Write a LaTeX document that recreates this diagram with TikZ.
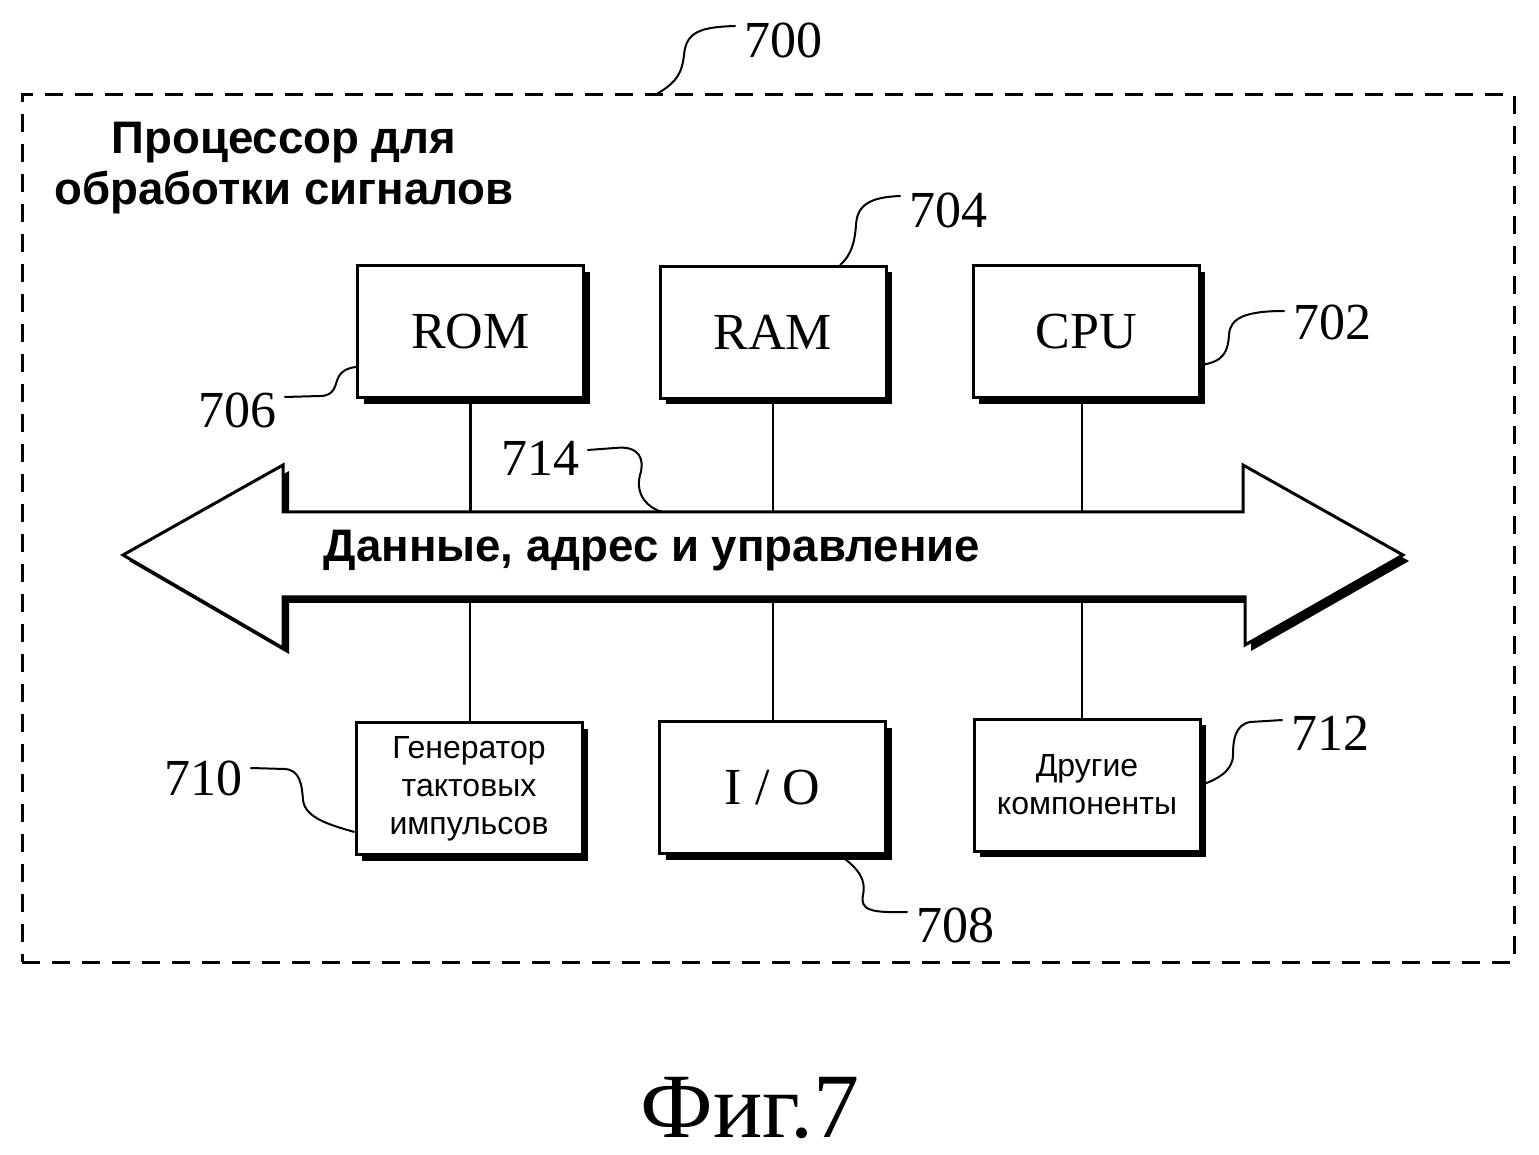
\documentclass[tikz,border=0pt]{standalone}
\usepackage{fontspec}
\setmainfont{Liberation Serif}
\setsansfont{Liberation Sans}
\usetikzlibrary{shadows}
\begin{document}
\begin{tikzpicture}[x=0.5pt,y=-0.5pt,
  box/.style={draw,line width=1.5pt,fill=white,minimum width=113pt,minimum height=66pt,inner sep=0pt,
    drop shadow={shadow xshift=3pt,shadow yshift=-3pt,fill=black,opacity=1}},
  bigtext/.style={font=\fontsize{26}{30}\selectfont},
  smalltext/.style={font=\sffamily\fontsize{16}{19}\selectfont,align=center},
  reflabel/.style={font=\fontsize{26}{30}\selectfont,inner sep=4pt},
  leader/.style={line width=1pt},
  conn/.style={line width=1.2pt}]
\useasboundingbox (0,0) rectangle (1539,1155);
% frame
\node[draw,dashed,dash pattern=on 9pt off 6pt,line width=1.5pt,minimum width=746pt,minimum height=433.5pt,inner sep=0pt] (frame) at (768,528.5) {};
\node[font=\sffamily\bfseries\fontsize{22.8}{25.5}\selectfont,align=center] (title) at (284,168) {Процессор для\\обработки сигналов};
% bus geometry
\coordinate (bt) at (0,512);
\coordinate (bb) at (0,597);
% top boxes
\node[box,bigtext] (rom) at (470.5,332) {ROM};
\node[box,bigtext] (ram) at (773,332.5) {RAM};
\node[box,bigtext] (cpu) at (1086,332) {CPU};
% bottom boxes
\node[box,smalltext] (gen) at (469,788.5) {Генератор\\тактовых\\импульсов};
\node[box,bigtext] (io) at (772.5,787.5) {I / O};
\node[box,smalltext] (oth) at (1087,785) {Другие\\компоненты};
% connectors
\draw[conn] (rom.south) -- (rom.south |- bt);
\draw[conn] (ram.south) -- (ram.south |- bt);
\draw[conn] (1082,398) -- (1082,512);
\draw[conn] (470,597) -- (470,722);
\draw[conn] (773,597) -- (773,720);
\draw[conn] (1082,597) -- (1082,720);
% bus arrow
\fill[black,xshift=3pt,yshift=-3pt] (123,555) -- (283,465) -- (283,512) -- (1243,512) -- (1243,465) -- (1403,555) -- (1245,645) -- (1245,597) -- (283,597) -- (283,648) -- cycle;
\draw[line width=1.5pt,fill=white,line join=miter] (123,555) -- (283,465) -- (283,512) -- (1243,512) -- (1243,465) -- (1403,555) -- (1245,645) -- (1245,597) -- (283,597) -- (283,648) -- cycle;
\node[font=\sffamily\bfseries\fontsize{22.8}{25}\selectfont] (bus) at (652,551) {Данные, адрес и управление};
% reference labels
\node[reflabel] (l700) at (783,40) {700};
\node[reflabel] (l704) at (948,210) {704};
\node[reflabel] (l702) at (1332,322) {702};
\node[reflabel] (l706) at (237,410) {706};
\node[reflabel] (l714) at (540,458) {714};
\node[reflabel] (l710) at (203,778) {710};
\node[reflabel] (l712) at (1330,733) {712};
\node[reflabel] (l708) at (955,925) {708};
% leaders
\coordinate (c700) at (655,95);
\draw[leader] (c700) .. controls (678,82) and (682,72) .. (684,55) .. controls (686,32) and (700,27) .. (l700.west |- 0,26);
\draw[leader] (840,265) .. controls (852,255) and (855,240) .. (856,225) .. controls (857,205) and (870,197) .. (l704.west |- 0,196);
\draw[leader] (cpu.east |- 0,365) .. controls (1225,362) and (1228,350) .. (1229,335) .. controls (1230,318) and (1245,311) .. (l702.west |- 0,311);
\draw[leader] (l706.east |- 0,397) -- (320,396) .. controls (335,396) and (335,385) .. (338,378) .. controls (342,370) and (348,368) .. (rom.west |- 0,367);
\draw[leader] (l714.east |- 0,450) -- (615,448) .. controls (640,445) and (645,460) .. (640,475) .. controls (635,495) and (648,508) .. (662,512);
\draw[leader] (l710.east |- 0,768) -- (285,769) .. controls (300,770) and (302,785) .. (303,800) .. controls (305,818) and (330,825) .. (gen.west |- 0,832);
\draw[leader] (l712.west |- 0,720) -- (1250,722) .. controls (1235,725) and (1233,740) .. (1233,755) .. controls (1233,772) and (1215,780) .. (oth.east |- 0,785);
\draw[leader] (840,855) .. controls (860,870) and (866,880) .. (863,895) .. controls (860,910) and (870,913) .. (l708.west |- 0,912);
% caption
\node[font=\fontsize{46}{52}\selectfont] (cap) at (750,1108) {Фиг.7};
\end{tikzpicture}
\end{document}
